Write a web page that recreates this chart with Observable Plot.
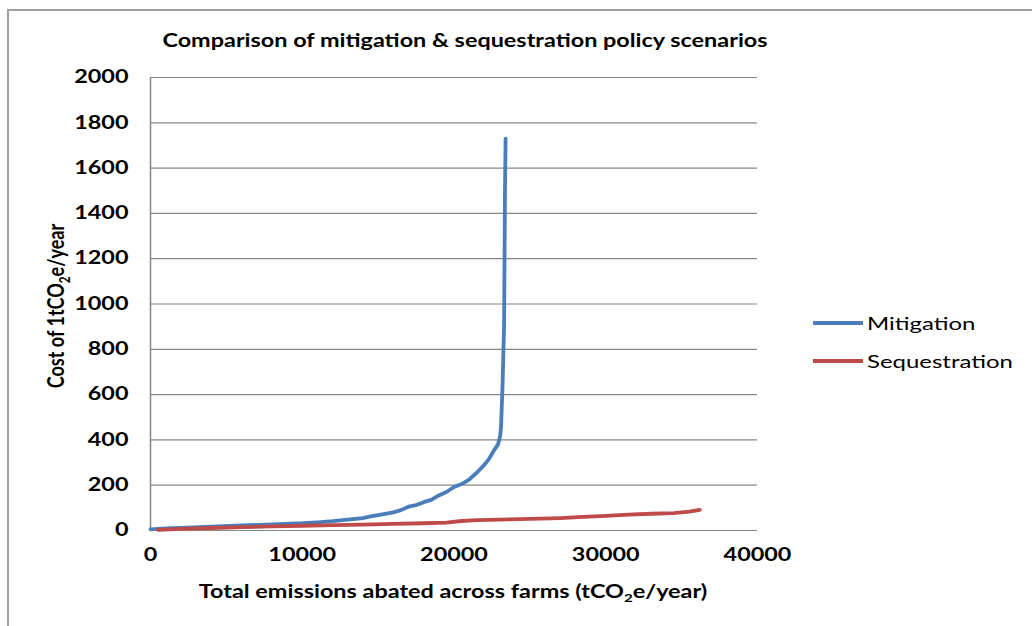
<!DOCTYPE html>
<html>
<head>
<meta charset="utf-8">
<script src="https://cdn.jsdelivr.net/npm/d3@7"></script>
<script src="https://cdn.jsdelivr.net/npm/@observablehq/plot@0.6"></script>
<style>
  html, body { margin: 0; padding: 0; background: #fff; }
  #wrap { position: relative; width: 1032px; height: 626px; overflow: hidden; font-family: Lato, "Open Sans", sans-serif; color: #000; }
  #frame { position: absolute; left: 7px; top: 9px; width: 1040px; height: 640px; border-left: 2px solid #a0a0a0; border-top: 2px solid #a0a0a0; box-sizing: border-box; }
  #chart { position: absolute; left: 0; top: 0; }
  .title { position: absolute; left: 465px; top: 40px; transform: translate(-50%, -50%) scaleX(1.3); white-space: nowrap; font-weight: bold; font-size: 18px; }
  .xlab { position: absolute; left: 453px; top: 592px; transform: translate(-50%, -50%) scaleX(1.3); white-space: nowrap; font-weight: bold; font-size: 18px; }
  .ylab { position: absolute; left: 57px; top: 306px; transform: translate(-50%, -50%) rotate(-90deg) scaleY(1.3); white-space: nowrap; font-weight: bold; font-size: 18px; }
  .legend { position: absolute; left: 813px; top: 304px; font-size: 18px; }
  .legend .item { display: flex; align-items: center; height: 38px; }
  .legend .swatch { width: 50px; height: 4px; margin-right: 4px; flex: none; }
  .legend .name { display: inline-block; transform: scaleX(1.33); transform-origin: left center; }
</style>
</head>
<body>
<div id="wrap">
  <div id="frame"></div>
  <div id="chart"></div>
  <div class="title">Comparison of mitigation &amp; sequestration policy scenarios</div>
  <div class="ylab">Cost of 1tCO<sub style="font-size:0.65em">2</sub>e/year</div>
  <div class="xlab">Total emissions abated across farms (tCO<sub style="font-size:0.65em">2</sub>e/year)</div>
  <div class="legend" id="legend"></div>
</div>
<script>
// Cumulative abatement (tCO2e/year) against marginal cost per tCO2e/year
const mitigationX = [0, 1000, 2000, 4000, 6000, 8000, 10000, 11000, 12000, 13000, 14000, 14500, 15000, 16000, 16500, 17000, 17500, 18000, 18500, 19000, 19500, 20000, 20500, 21000, 21500, 22000, 22300, 22600, 22900, 23050, 23100, 23150, 23200, 23250, 23300, 23330, 23360, 23400];
const mitigationY = [5, 9, 12, 17, 22, 27, 32, 36, 41, 48, 55, 62, 68, 80, 90, 105, 112, 125, 135, 155, 170, 192, 205, 225, 255, 290, 315, 350, 380, 420, 460, 550, 640, 780, 900, 1200, 1500, 1730];

const sequestrationX = [500, 2000, 4000, 6000, 8000, 10000, 12000, 14000, 16000, 18000, 19500, 20500, 21500, 23000, 25000, 27000, 28500, 30000, 31500, 33000, 34500, 35500, 36200];
const sequestrationY = [3, 7, 11, 15, 18, 21, 24, 26, 29, 32, 35, 42, 46, 48, 51, 55, 60, 65, 70, 74, 77, 83, 91];

const seriesNames = ["Mitigation", "Sequestration"];
const seriesColors = ["#4a7ebb", "#be4b48"];

const xTicks = [0, 10000, 20000, 30000, 40000];
const yTicks = [0, 200, 400, 600, 800, 1000, 1200, 1400, 1600, 1800, 2000];

const rows = [
  ...mitigationX.map((x, i) => ({series: seriesNames[0], x, y: mitigationY[i]})),
  ...sequestrationX.map((x, i) => ({series: seriesNames[1], x, y: sequestrationY[i]}))
];

const chart = Plot.plot({
  width: 1032,
  height: 626,
  marginLeft: 150,
  marginRight: 275,
  marginTop: 77,
  marginBottom: 96,
  style: {fontFamily: "Lato, 'Open Sans', sans-serif", fontSize: "18px", fontWeight: "bold", color: "#000", background: "transparent", overflow: "visible"},
  x: {domain: [0, 40000], ticks: xTicks, tickFormat: d => String(d)},
  y: {domain: [0, 2000], ticks: yTicks, tickFormat: d => String(d)},
  color: {domain: seriesNames, range: seriesColors},
  marks: [
    Plot.gridY(yTicks, {stroke: "#868686", strokeOpacity: 1, strokeWidth: 1.2}),
    Plot.ruleX([0], {stroke: "#868686", strokeWidth: 1.5}),
    Plot.axisX(xTicks, {tickSize: 0, tickPadding: 18, label: null, fill: "#000", tickFormat: d => String(d)}),
    Plot.axisY(yTicks, {tickSize: 0, tickPadding: 22, label: null, fill: "#000", tickFormat: d => String(d)}),
    Plot.line(rows, {x: "x", y: "y", z: "series", stroke: "series", strokeWidth: 3.8, curve: "linear"})
  ]
});
document.getElementById("chart").appendChild(chart);

// Widen the tick labels horizontally around their anchor points
const isPlainNumber = (s) => s != null && /^-?[\d.]+$/.test(s.trim());
d3.select(chart)
  .selectAll("g[aria-label='x-axis tick label'] text, g[aria-label='y-axis tick label'] text")
  .each(function () {
    let t = this.getAttribute("transform") || "";
    const xa = this.getAttribute("x");
    const ya = this.getAttribute("y");
    let dx = 0, dy = 0;
    if (isPlainNumber(xa)) { dx = +xa; this.removeAttribute("x"); }
    if (isPlainNumber(ya)) { dy = +ya; this.removeAttribute("y"); }
    this.setAttribute("transform", `${t} translate(${dx},${dy}) scale(1.3,1)`);
  });

// Legend entries built from the same series names and colours
const legend = document.getElementById("legend");
seriesNames.forEach((name, i) => {
  const item = document.createElement("div");
  item.className = "item";
  const sw = document.createElement("span");
  sw.className = "swatch";
  sw.style.background = seriesColors[i];
  const label = document.createElement("span");
  label.className = "name";
  label.textContent = name;
  item.appendChild(sw);
  item.appendChild(label);
  legend.appendChild(item);
});
</script>
</body>
</html>
